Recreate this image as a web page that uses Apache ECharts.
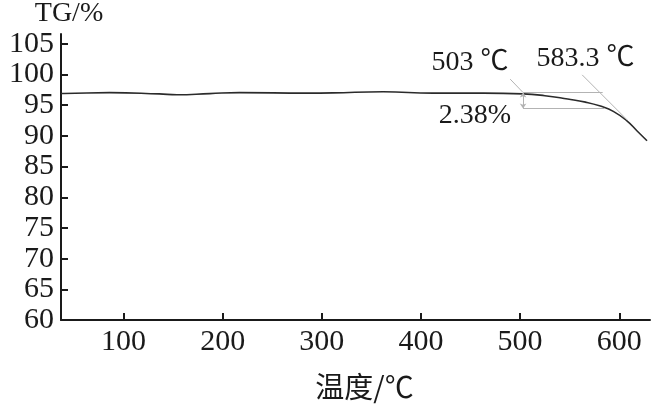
<!DOCTYPE html>
<html>
<head>
<meta charset="utf-8">
<script src="https://cdn.jsdelivr.net/npm/echarts@6/dist/echarts.min.js"></script>
<style>
  html, body { margin: 0; padding: 0; background: #fff; }
  #chart { width: 660px; height: 410px; }
</style>
</head>
<body>
<div id="chart"></div>
<script>
  // 温度 (℃) 与 TG (%) 读数
  var temps = [37, 40, 86, 136, 154, 187, 217, 285, 311, 362, 412, 463, 503, 525, 548, 566, 581, 594, 608, 618, 628];
  var tg = [96.9, 96.9, 97.05, 96.84, 96.7, 96.89, 97.05, 96.96, 97.0, 97.2, 96.96, 96.96, 96.85, 96.55, 96.0, 95.5, 94.85, 94.0, 92.4, 90.8, 89.2];

  // 标注：起始温度、外推温度、失重
  var onsetT = 503, extraT = 583.3;
  var baseTG = 97.06, lowTG = 94.45;
  var tangent1 = [[490, 99.25], [503, 97.06]];
  var tangent2 = [[562.6, 99.94], [608, 92.6]];
  var labelTexts = ['503 ℃', '583.3 ℃', '2.38%'];
  var labelCoords = [[449.5, 101.9], [566, 102.6], [454.5, 93.25]];

  var ink = '#1a1a1a';
  var serif = "'Liberation Serif', 'Noto Sans CJK SC'";
  var grey = '#b3b3b3';

  var points = temps.map(function (t, i) { return [t, tg[i]]; });

  var chart = echarts.init(document.getElementById('chart'));
  chart.setOption({
    animation: false,
    grid: { left: 61, right: 10, top: 33, bottom: 90 },
    xAxis: {
      type: 'value',
      min: 37,
      max: 631,
      name: '温度/℃',
      nameLocation: 'middle',
      nameGap: 52,
      nameTextStyle: { fontSize: 29, color: ink, fontFamily: 'Noto Sans CJK SC', padding: [0, 0, 0, 18] },
      axisLine: { lineStyle: { color: ink, width: 2 } },
      axisTick: { inside: true, length: 7, lineStyle: { color: ink, width: 2 } },
      axisLabel: { fontSize: 30, color: ink, fontFamily: serif, margin: 7, showMinLabel: false, showMaxLabel: false },
      splitLine: { show: false }
    },
    yAxis: {
      type: 'value',
      min: 60,
      max: 106.6,
      interval: 5,
      name: 'TG/%',
      nameLocation: 'end',
      nameGap: 6,
      nameTextStyle: { fontSize: 28, color: ink, fontFamily: serif, align: 'center', padding: [0, 0, 0, 16] },
      axisLine: { lineStyle: { color: ink, width: 2 } },
      axisTick: { inside: true, length: 7, lineStyle: { color: ink, width: 2 } },
      axisLabel: { fontSize: 30, color: ink, fontFamily: serif, margin: 7, showMaxLabel: false },
      splitLine: { show: false }
    },
    series: [{
      type: 'line',
      data: points,
      smooth: 0.5,
      showSymbol: false,
      lineStyle: { color: '#2b2b2b', width: 1.6 },
      markLine: {
        silent: true,
        symbol: 'none',
        label: { show: false },
        lineStyle: { color: grey, width: 1, type: 'solid' },
        data: [
          [{ coord: tangent1[0] }, { coord: tangent1[1] }],
          [{ coord: tangent2[0] }, { coord: tangent2[1] }],
          [{ coord: [onsetT, baseTG] }, { coord: [extraT, baseTG] }],
          [{ coord: [onsetT, lowTG] }, { coord: [585, lowTG] }],
          [{ coord: [onsetT, baseTG], symbol: 'arrow', symbolSize: 5 }, { coord: [onsetT, lowTG], symbol: 'arrow', symbolSize: 5 }]
        ]
      },
      markPoint: {
        silent: true,
        symbol: 'circle',
        symbolSize: 0,
        label: { show: true, position: 'inside', fontSize: 28, color: ink, fontFamily: serif },
        data: labelTexts.map(function (s, i) {
          return { coord: labelCoords[i], label: { formatter: s } };
        })
      }
    }]
  });
</script>
</body>
</html>
